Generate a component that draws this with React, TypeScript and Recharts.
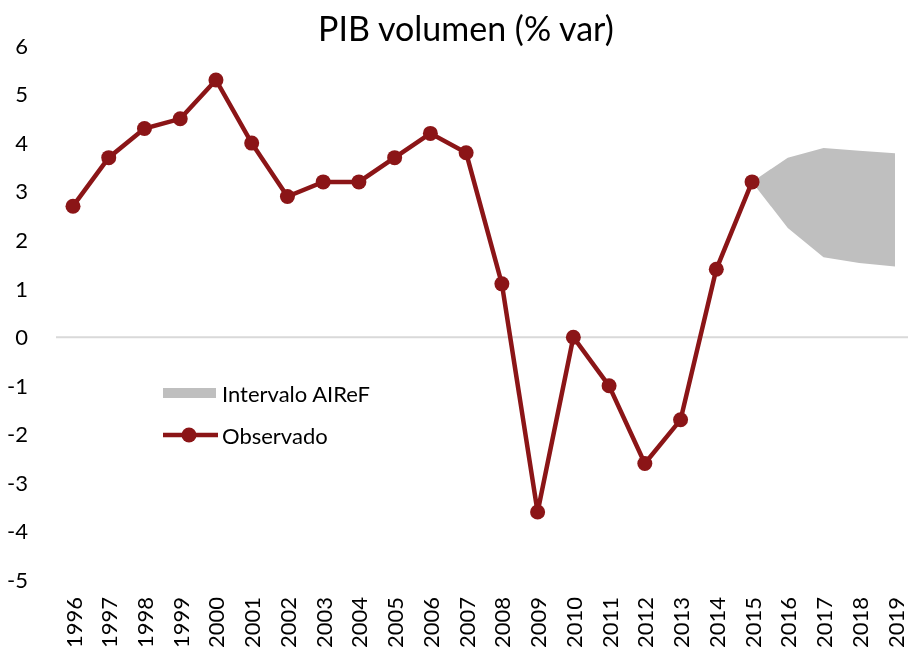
import { ComposedChart, Line, Area, XAxis, YAxis, ReferenceLine, Legend } from 'recharts';

const years = [
  '1996', '1997', '1998', '1999', '2000', '2001', '2002', '2003', '2004', '2005', '2006', '2007',
  '2008', '2009', '2010', '2011', '2012', '2013', '2014', '2015', '2016', '2017', '2018', '2019',
];
const observado = [
  2.7, 3.7, 4.3, 4.5, 5.3, 4.0, 2.9, 3.2, 3.2, 3.7, 4.2, 3.8,
  1.1, -3.6, 0.0, -1.0, -2.6, -1.7, 1.4, 3.2, null, null, null, null,
];
const intervaloBajo = [
  null, null, null, null, null, null, null, null, null, null, null, null,
  null, null, null, null, null, null, null, 3.2, 2.25, 1.65, 1.53, 1.46,
];
const intervaloAlto = [
  null, null, null, null, null, null, null, null, null, null, null, null,
  null, null, null, null, null, null, null, 3.2, 3.7, 3.9, 3.84, 3.79,
];
const yTicks = [-5, -4, -3, -2, -1, 0, 1, 2, 3, 4, 5, 6];

const data = years.map((year, i) => ({
  year,
  observado: observado[i],
  intervalo: intervaloBajo[i] == null ? null : [intervaloBajo[i], intervaloAlto[i]],
}));

const FONT = 'Lato, "Open Sans", sans-serif';
const RED = '#8B1517';
const GRAY = '#BFBFBF';

function YearTick({ x, y, payload }: any) {
  return (
    <text
      x={x}
      y={y}
      transform={`rotate(-90 ${x} ${y})`}
      textAnchor="end"
      dominantBaseline="central"
      fontSize={22}
      fontFamily={FONT}
      fill="#000"
    >
      {payload.value}
    </text>
  );
}

function LegendBox({ payload }: any) {
  return (
    <div style={{ fontFamily: FONT, fontSize: 22, color: '#000' }}>
      {payload.map((item: any) => (
        <div key={item.dataKey} style={{ display: 'flex', alignItems: 'center', height: 30, marginBottom: 12 }}>
          <svg width={56} height={24} style={{ marginRight: 3 }}>
            {item.dataKey === 'intervalo' ? (
              <rect x={0} y={7} width={53} height={10} fill={GRAY} />
            ) : (
              <g>
                <line x1={0} y1={12} x2={55} y2={12} stroke={RED} strokeWidth={4.5} />
                <circle cx={26} cy={12} r={7.5} fill={RED} />
              </g>
            )}
          </svg>
          <span>{item.value}</span>
        </div>
      ))}
    </div>
  );
}

export default function App() {
  return (
    <div style={{ position: 'fixed', left: 8, top: 8, width: 900, height: 644 }}>
      <div
        style={{
          position: 'absolute',
          left: 0,
          width: 916,
          top: -1,
          textAlign: 'center',
          fontFamily: FONT,
          fontSize: 34,
          color: '#000',
        }}
      >
        PIB volumen (% var)
      </div>
      <ComposedChart
        width={900}
        height={644}
        data={data}
        margin={{ top: 38, right: 0, left: 0, bottom: 0 }}
        style={{ overflow: 'visible' }}
      >
        <XAxis
          dataKey="year"
          scale="point"
          padding={{ left: 17, right: 13 }}
          axisLine={false}
          tickLine={false}
          tickMargin={11}
          height={72}
          interval={0}
          tick={<YearTick />}
        />
        <YAxis
          domain={[-5, 6]}
          ticks={yTicks}
          width={48}
          axisLine={false}
          tickLine={false}
          tickMargin={22}
          interval={0}
          tick={{ fontSize: 22, fontFamily: FONT, fill: '#000' }}
        />
        <ReferenceLine y={0} stroke="#D9D9D9" strokeWidth={2} />
        <Area
          dataKey="intervalo"
          name="Intervalo AIReF"
          type="linear"
          fill={GRAY}
          fillOpacity={1}
          stroke="none"
          isAnimationActive={false}
          connectNulls={false}
        />
        <Line
          dataKey="observado"
          name="Observado"
          type="linear"
          stroke={RED}
          strokeWidth={4.5}
          dot={{ r: 7.5, fill: RED, stroke: RED, strokeWidth: 0 }}
          activeDot={false}
          isAnimationActive={false}
        />
        <Legend
          layout="vertical"
          verticalAlign="middle"
          align="center"
          content={<LegendBox />}
          wrapperStyle={{ left: 155, top: 370, width: 280 }}
        />
      </ComposedChart>
    </div>
  );
}
